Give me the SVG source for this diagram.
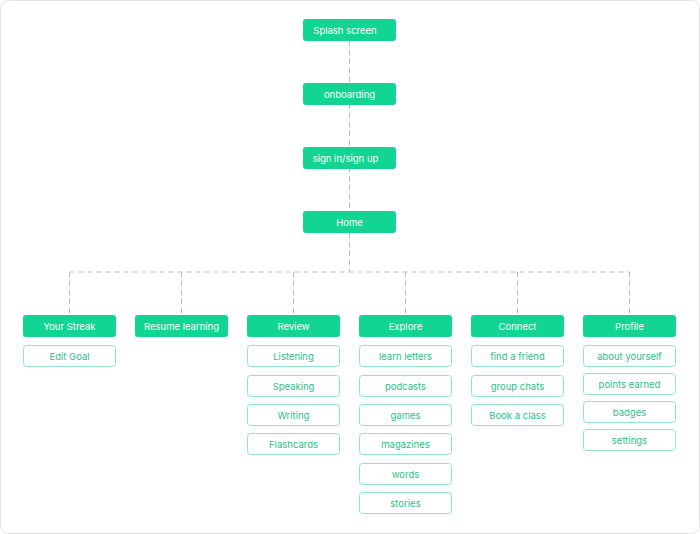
<svg xmlns="http://www.w3.org/2000/svg" width="700" height="534" viewBox="0 0 700 534">
<style>
.f{fill:#12d593}
.o{fill:#fff;stroke:#8fe5c6;stroke-width:1}
text{font-family:Inter,"Liberation Sans",sans-serif;font-size:9.5px;text-anchor:middle;dominant-baseline:central}
.tf{fill:#fff}
.to{fill:#2dc089}
.c{stroke:#bdbdbd;stroke-width:1;stroke-dasharray:5,4;fill:none}
</style>
<rect x="0.5" y="0.5" width="699" height="533" rx="8" fill="#fff" stroke="#e4e4e4"/>
<g id="connectors">
<path class="c" d="M349.5 41V211M349.5 233V272M69.5 272H629.5M69.5 272V315M181.5 272V315M293.5 272V315M405.5 272V315M517.5 272V315M629.5 272V315"/>
</g>
<g id="n-splash"><rect class="f" x="303" y="19" width="93" height="22" rx="3"/><text class="tf" x="345" y="30">Splash screen</text></g>
<g id="n-onb"><rect class="f" x="303" y="83" width="93" height="22" rx="3"/><text class="tf" x="349.5" y="94">onboarding</text></g>
<g id="n-sign"><rect class="f" x="303" y="147" width="93" height="22" rx="3"/><text class="tf" x="345.5" y="158">sign in/sign up</text></g>
<g id="n-home"><rect class="f" x="303" y="211" width="93" height="22" rx="3"/><text class="tf" x="349.5" y="222">Home</text></g>
<g id="n-streak"><rect class="f" x="23" y="315" width="93" height="22" rx="3"/><text class="tf" x="69.5" y="326">Your Streak</text></g>
<g id="n-resume"><rect class="f" x="135" y="315" width="93" height="22" rx="3"/><text class="tf" x="181.5" y="326">Resume learning</text></g>
<g id="n-review"><rect class="f" x="247" y="315" width="93" height="22" rx="3"/><text class="tf" x="293.5" y="326">Review</text></g>
<g id="n-explore"><rect class="f" x="359" y="315" width="93" height="22" rx="3"/><text class="tf" x="405.5" y="326">Explore</text></g>
<g id="n-connect"><rect class="f" x="471" y="315" width="93" height="22" rx="3"/><text class="tf" x="517.5" y="326">Connect</text></g>
<g id="n-profile"><rect class="f" x="583" y="315" width="93" height="22" rx="3"/><text class="tf" x="629.5" y="326">Profile</text></g>
<g id="n-editgoal"><rect class="o" x="23.5" y="345.5" width="92" height="21" rx="3"/><text class="to" x="69.5" y="356">Edit Goal</text></g>
<g id="n-listening"><rect class="o" x="247.5" y="345.5" width="92" height="21" rx="3"/><text class="to" x="293.5" y="356">Listening</text></g>
<g id="n-speaking"><rect class="o" x="247.5" y="375.5" width="92" height="21" rx="3"/><text class="to" x="293.5" y="386">Speaking</text></g>
<g id="n-writing"><rect class="o" x="247.5" y="404.5" width="92" height="21" rx="3"/><text class="to" x="293.5" y="415">Writing</text></g>
<g id="n-flash"><rect class="o" x="247.5" y="433.5" width="92" height="21" rx="3"/><text class="to" x="293.5" y="444">Flashcards</text></g>
<g id="n-letters"><rect class="o" x="359.5" y="345.5" width="92" height="21" rx="3"/><text class="to" x="405.5" y="356">learn letters</text></g>
<g id="n-podcasts"><rect class="o" x="359.5" y="375.5" width="92" height="21" rx="3"/><text class="to" x="405.5" y="386">podcasts</text></g>
<g id="n-games"><rect class="o" x="359.5" y="404.5" width="92" height="21" rx="3"/><text class="to" x="405.5" y="415">games</text></g>
<g id="n-magazines"><rect class="o" x="359.5" y="433.5" width="92" height="21" rx="3"/><text class="to" x="405.5" y="444">magazines</text></g>
<g id="n-words"><rect class="o" x="359.5" y="463.5" width="92" height="21" rx="3"/><text class="to" x="405.5" y="474">words</text></g>
<g id="n-stories"><rect class="o" x="359.5" y="492.5" width="92" height="21" rx="3"/><text class="to" x="405.5" y="503">stories</text></g>
<g id="n-friend"><rect class="o" x="471.5" y="345.5" width="92" height="21" rx="3"/><text class="to" x="517.5" y="356">find a friend</text></g>
<g id="n-group"><rect class="o" x="471.5" y="375.5" width="92" height="21" rx="3"/><text class="to" x="517.5" y="386">group chats</text></g>
<g id="n-class"><rect class="o" x="471.5" y="404.5" width="92" height="21" rx="3"/><text class="to" x="517.5" y="415">Book a class</text></g>
<g id="n-about"><rect class="o" x="583.5" y="345.5" width="92" height="21" rx="3"/><text class="to" x="629.5" y="356">about yourself</text></g>
<g id="n-points"><rect class="o" x="583.5" y="373.5" width="92" height="21" rx="3"/><text class="to" x="629.5" y="384">points earned</text></g>
<g id="n-badges"><rect class="o" x="583.5" y="401.5" width="92" height="21" rx="3"/><text class="to" x="629.5" y="412">badges</text></g>
<g id="n-settings"><rect class="o" x="583.5" y="429.5" width="92" height="21" rx="3"/><text class="to" x="629.5" y="440">settings</text></g>
</svg>
